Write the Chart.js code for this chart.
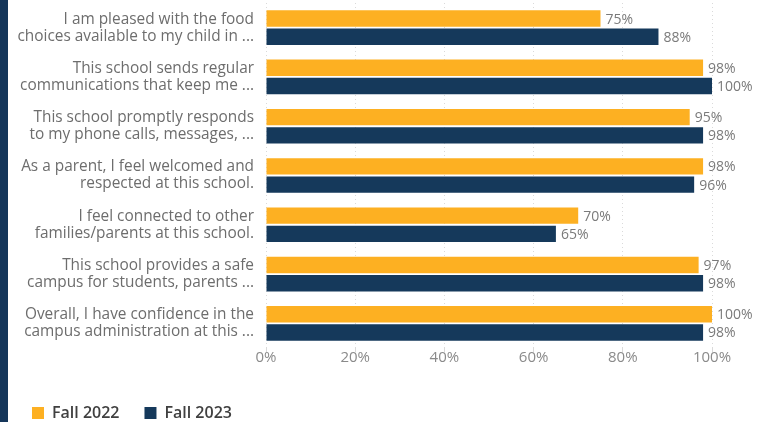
<!DOCTYPE html>
<html>
<head>
<meta charset="utf-8">
<script src="https://cdn.jsdelivr.net/npm/chart.js@4/dist/chart.umd.min.js"></script>
<style>
  html, body { margin: 0; padding: 0; background: #fff; }
  #wrap { position: relative; width: 762px; height: 422px; overflow: hidden; }
  #faixa { position: absolute; left: 0; top: 0; width: 8px; height: 422px; background: #15365a; z-index: 2; }
  canvas { position: absolute; left: 0; top: 0; }
</style>
</head>
<body>
<div id="wrap">
  <div id="faixa"></div>
  <!-- o canvas passa um pouco da borda de baixo; a legenda fica rente ao fim -->
  <canvas id="grafico" width="762" height="431"></canvas>
</div>
<script>
// perguntas da pesquisa (quebradas em duas linhas)
const perguntas = [
    ['I am pleased with the food', 'choices available to my child in ...'],
    ['This school sends regular', 'communications that keep me ...'],
    ['This school promptly responds', 'to my phone calls, messages, ...'],
    ['As a parent, I feel welcomed and', 'respected at this school.'],
    ['I feel connected to other', 'families/parents at this school.'],
    ['This school provides a safe', 'campus for students, parents ...'],
    ['Overall, I have confidence in the', 'campus administration at this ...']
];
const fall2022 = [75, 98, 95, 98, 70, 97, 100];
const fall2023 = [88, 100, 98, 96, 65, 98, 98];
const ticksX = [0, 20, 40, 60, 80, 100];

const corLaranja = '#fdb022';
const corAzul = '#15395b';
const fonte = "'Open Sans', 'Noto Sans', sans-serif";

// escreve o valor (%) logo depois do fim de cada barra
const rotulosValor = {
    id: 'rotulosValor',
    afterDatasetsDraw(chart) {
        const ctx = chart.ctx;
        ctx.save();
        ctx.font = '14px ' + fonte;
        ctx.fillStyle = '#7a7a7a';
        ctx.textAlign = 'left';
        ctx.textBaseline = 'middle';
        chart.data.datasets.forEach(function (ds, i) {
            const meta = chart.getDatasetMeta(i);
            meta.data.forEach(function (barra, j) {
                ctx.fillText(ds.data[j] + '%', barra.x + 5, barra.y + 1);
            });
        });
        ctx.restore();
    }
};

const dados = {
    labels: perguntas,
    datasets: [{
        label: 'Fall 2022',
        data: fall2022,
        backgroundColor: corLaranja,
        categoryPercentage: 0.74,
        barPercentage: 0.9
    }, {
        label: 'Fall 2023',
        data: fall2023,
        backgroundColor: corAzul,
        categoryPercentage: 0.74,
        barPercentage: 0.9
    }]
};

const config = {
    type: 'bar',
    data: dados,
    plugins: [rotulosValor],
    options: {
        indexAxis: 'y',
        responsive: false,
        animation: false,
        layout: { padding: { left: 7, right: 50, top: 3, bottom: 0 } },
        plugins: {
            tooltip: { enabled: false },
            legend: {
                position: 'bottom',
                align: 'start',
                labels: {
                    boxWidth: 12,
                    boxHeight: 12,
                    padding: 25,
                    color: '#404040',
                    font: { family: fonte, size: 16, weight: '600' }
                }
            }
        },
        scales: {
            x: {
                min: 0,
                max: 100,
                afterBuildTicks(scale) {
                    scale.ticks = ticksX.map(v => ({ value: v }));
                },
                afterFit(scale) { scale.height = 32; },
                grid: { color: '#dadada', tickLength: 4, drawOnChartArea: true },
                border: { display: false, dash: [1, 3] },
                ticks: {
                    padding: -3,
                    color: '#8a8a8a',
                    font: { family: fonte, size: 15 },
                    callback: v => v + '%'
                }
            },
            y: {
                afterFit(scale) {
                    scale.width = 259;
                    // sem folga extra em cima/embaixo por causa dos rótulos de duas linhas
                    scale.paddingTop = 0;
                    scale.paddingBottom = 0;
                },
                grid: { display: false },
                border: { display: false },
                ticks: {
                    padding: 4,
                    color: '#6d6d6d',
                    font: { family: fonte, size: 15.4, lineHeight: 1.1 }
                }
            }
        }
    }
};

var ctx = document.getElementById('grafico').getContext('2d');
let meuGrafico = new Chart(ctx, config);
</script>
</body>
</html>
